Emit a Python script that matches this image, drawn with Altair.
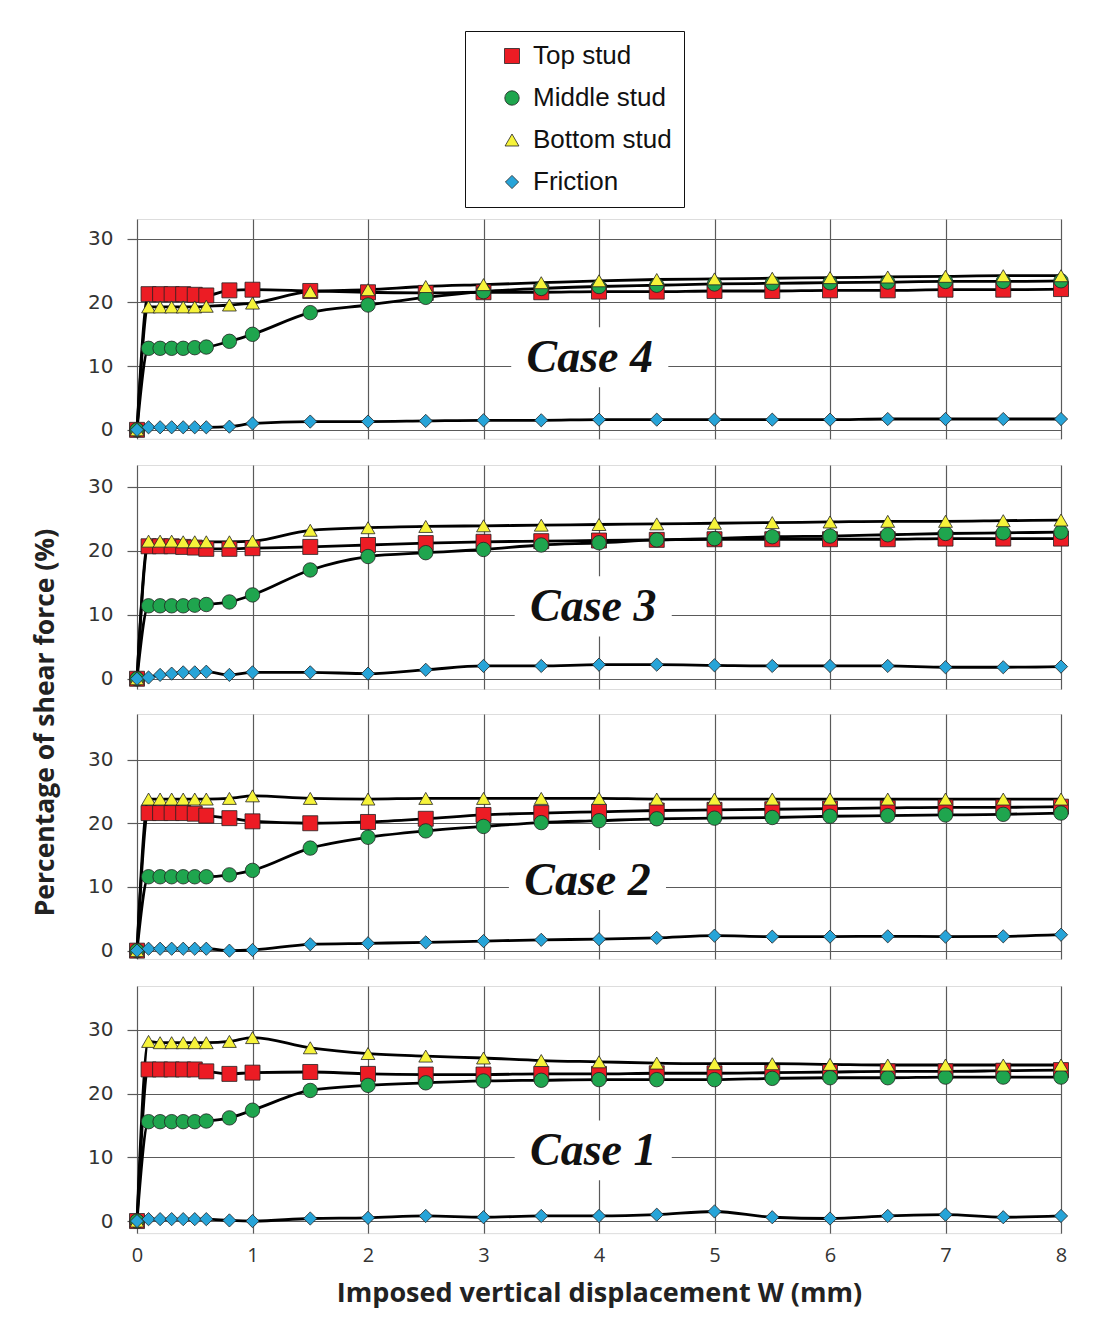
import altair as alt
import pandas as pd

# ---------------- data ----------------
disp = [0, 0.1, 0.2, 0.3, 0.4, 0.5, 0.6, 0.8, 1, 1.5, 2, 2.5, 3, 3.5, 4, 4.5, 5, 5.5, 6, 6.5, 7, 7.5, 8]
series_names = ["Top stud", "Middle stud", "Bottom stud", "Friction"]
series_colors = ["#ec1c24", "#1fa54e", "#f6f33a", "#27a4d8"]
series_shapes = ["square", "circle", "triangle-up", "diamond"]
series_sizes = [225, 175, 185, 115]

case_names = ["Case 4", "Case 3", "Case 2", "Case 1"]

top4 = [0, 21.3, 21.3, 21.3, 21.3, 21.2, 21.1, 21.9, 22.0, 21.8, 21.6, 21.5, 21.6, 21.6, 21.7, 21.7, 21.8, 21.8, 21.9, 21.9, 22.0, 22.0, 22.1]
mid4 = [0, 12.8, 12.8, 12.8, 12.8, 12.9, 13.0, 13.9, 15.0, 18.4, 19.6, 20.8, 21.7, 22.2, 22.5, 22.7, 22.9, 23.0, 23.1, 23.2, 23.3, 23.3, 23.4]
bot4 = [0, 19.3, 19.3, 19.3, 19.3, 19.3, 19.4, 19.6, 19.9, 21.7, 22.0, 22.5, 22.8, 23.1, 23.4, 23.6, 23.7, 23.8, 23.9, 24.0, 24.1, 24.2, 24.2]
fr4 = [0, 0.4, 0.4, 0.4, 0.4, 0.4, 0.4, 0.5, 1.0, 1.3, 1.3, 1.4, 1.5, 1.5, 1.6, 1.6, 1.6, 1.6, 1.6, 1.7, 1.7, 1.7, 1.7]

top3 = [0, 20.7, 20.7, 20.7, 20.6, 20.5, 20.3, 20.3, 20.4, 20.6, 20.9, 21.2, 21.4, 21.5, 21.6, 21.7, 21.8, 21.8, 21.8, 21.8, 21.9, 21.9, 21.9]
mid3 = [0, 11.4, 11.4, 11.4, 11.4, 11.5, 11.6, 12.0, 13.1, 17.0, 19.1, 19.7, 20.2, 20.9, 21.25, 21.7, 21.9, 22.2, 22.3, 22.5, 22.7, 22.8, 22.9]
bot3 = [0, 21.5, 21.5, 21.5, 21.4, 21.4, 21.4, 21.4, 21.5, 23.2, 23.6, 23.8, 23.9, 24.0, 24.1, 24.2, 24.3, 24.4, 24.5, 24.6, 24.6, 24.7, 24.8]
fr3 = [0, 0.2, 0.6, 0.8, 1.0, 1.0, 1.1, 0.6, 1.0, 1.0, 0.8, 1.4, 2.0, 2.0, 2.2, 2.2, 2.1, 2.0, 2.0, 2.0, 1.8, 1.8, 1.9]

top2 = [0, 21.6, 21.6, 21.6, 21.6, 21.5, 21.2, 20.8, 20.3, 20.0, 20.2, 20.7, 21.3, 21.6, 21.8, 22.0, 22.1, 22.2, 22.3, 22.4, 22.5, 22.5, 22.6]
mid2 = [0, 11.6, 11.6, 11.6, 11.6, 11.6, 11.6, 11.9, 12.6, 16.1, 17.8, 18.8, 19.5, 20.1, 20.4, 20.7, 20.8, 20.9, 21.1, 21.2, 21.3, 21.4, 21.6]
bot2 = [0, 23.8, 23.8, 23.8, 23.8, 23.8, 23.8, 23.9, 24.3, 23.9, 23.8, 23.9, 23.9, 23.9, 23.9, 23.8, 23.8, 23.8, 23.8, 23.8, 23.8, 23.8, 23.8]
fr2 = [0, 0.3, 0.3, 0.3, 0.3, 0.3, 0.3, 0.0, 0.1, 1.0, 1.15, 1.3, 1.5, 1.7, 1.8, 2.0, 2.35, 2.2, 2.2, 2.25, 2.2, 2.25, 2.5]

top1 = [0, 23.8, 23.8, 23.8, 23.8, 23.8, 23.5, 23.1, 23.3, 23.4, 23.1, 23.0, 23.0, 23.1, 23.1, 23.2, 23.2, 23.3, 23.4, 23.5, 23.5, 23.6, 23.7]
mid1 = [0, 15.6, 15.6, 15.6, 15.6, 15.6, 15.7, 16.2, 17.4, 20.5, 21.3, 21.7, 22.0, 22.1, 22.2, 22.2, 22.2, 22.4, 22.5, 22.5, 22.6, 22.6, 22.6]
bot1 = [0, 28.2, 28.0, 28.0, 28.0, 28.0, 28.0, 28.2, 28.8, 27.2, 26.3, 25.9, 25.6, 25.2, 25.0, 24.8, 24.7, 24.7, 24.6, 24.5, 24.5, 24.5, 24.5]
fr1 = [0, 0.3, 0.3, 0.3, 0.3, 0.3, 0.3, 0.1, 0.0, 0.4, 0.5, 0.8, 0.6, 0.8, 0.8, 1.0, 1.5, 0.6, 0.4, 0.8, 1.0, 0.6, 0.8]

case_series = [
    [top4, mid4, bot4, fr4],
    [top3, mid3, bot3, fr3],
    [top2, mid2, bot2, fr2],
    [top1, mid1, bot1, fr1],
]

# label positions (data units) for the "Case N" captions
case_label_x = [3.92, 3.95, 3.9, 3.95]
case_label_y = [11.3, 11.2, 11.0, 11.0]

# y-domains per panel (the panels were of slightly different extent)
y_min = [-1.4, -1.6, -1.3, -1.9]
y_max = [33.1, 33.4, 37.15, 36.9]
px_per_unit = [6.37, 6.4, 6.37, 6.37]

x_ticks = [0, 1, 2, 3, 4, 5, 6, 7, 8]
y_ticks = [0, 10, 20, 30]

GRID = "#5a5a5a"

legend = alt.Legend(
    orient="none", legendX=328, legendY=-188, title=None,
    labelFont="Liberation Sans", labelFontSize=26, labelColor="#111",
    symbolSize=110, symbolStrokeColor="#222", symbolStrokeWidth=0.8,
    strokeColor="#111", padding=12, rowPadding=16, symbolOffset=22,
    labelOffset=8, fillColor="white",
)


def panel(i, bottom):
    rows = []
    for s, name in enumerate(series_names):
        for x, v in zip(disp, case_series[i][s]):
            rows.append({"x": x, "y": v, "series": name, "sidx": s})
    df = pd.DataFrame(rows)

    h = (y_max[i] - y_min[i]) * px_per_unit[i]

    if bottom:
        xaxis = alt.Axis(values=x_ticks, grid=True, gridColor=GRID, gridWidth=1.2,
                         domain=False, ticks=False, labelPadding=12, labelFlush=False,
                         labelFont="Open Sans", labelFontSize=20, labelColor="#333",
                         title="Imposed vertical displacement W (mm)",
                         titleFont="Open Sans", titleFontSize=27, titleFontWeight="bold",
                         titleColor="#222", titlePadding=15)
    else:
        xaxis = alt.Axis(values=x_ticks, grid=True, gridColor=GRID, gridWidth=1.2,
                         domain=False, ticks=False, labels=False, title=None)
    yaxis = alt.Axis(values=y_ticks, grid=True, gridColor=GRID, gridWidth=1.2,
                     domain=False, ticks=True, tickSize=10, tickColor=GRID, tickWidth=1.2,
                     labelPadding=14, labelFont="DejaVu Sans", labelFontSize=20,
                     labelColor="#333", title=None)

    xs = alt.Scale(domain=[0, 8], nice=False, zero=False)
    ys = alt.Scale(domain=[y_min[i], y_max[i]], nice=False, zero=False)
    xenc = alt.X("x:Q", scale=xs, axis=xaxis)
    yenc = alt.Y("y:Q", scale=ys, axis=yaxis)

    lines = alt.Chart(df).mark_line(color="black", strokeWidth=2.8, interpolate="monotone", clip=False).encode(
        x=xenc, y=yenc, detail="series:N"
    )
    points = alt.Chart(df).mark_point(filled=True, opacity=1, stroke="#222", strokeWidth=0.8, clip=False).encode(
        x=xenc, y=yenc,
        color=alt.Color("series:N", scale=alt.Scale(domain=series_names, range=series_colors), legend=legend),
        shape=alt.Shape("series:N", scale=alt.Scale(domain=series_names, range=series_shapes), legend=legend),
        size=alt.Size("series:N", scale=alt.Scale(domain=series_names, range=series_sizes), legend=None),
        order=alt.Order("sidx:Q"),
    )

    lab = pd.DataFrame({
        "x": [case_label_x[i]], "y": [case_label_y[i]], "text": [case_names[i]],
        "x0": [case_label_x[i] - 0.68], "x1": [case_label_x[i] + 0.68],
        "y0": [case_label_y[i] - 4.6], "y1": [case_label_y[i] + 4.8],
    })
    box = alt.Chart(lab).mark_rect(color="white").encode(
        x=alt.X("x0:Q", scale=xs, axis=xaxis), x2="x1:Q",
        y=alt.Y("y0:Q", scale=ys, axis=yaxis), y2="y1:Q",
    )
    text = alt.Chart(lab).mark_text(
        font="Liberation Serif", fontSize=46, fontWeight="bold", fontStyle="italic",
        color="#111", align="center", baseline="middle",
    ).encode(
        x=alt.X("x:Q", scale=xs, axis=xaxis),
        y=alt.Y("y:Q", scale=ys, axis=yaxis),
        text="text:N",
    )
    return alt.layer(box, text, lines, points).properties(width=924, height=h)


panels = [panel(i, i == 3) for i in range(4)]

chart = alt.vconcat(*panels, spacing=23).properties(
    title=alt.TitleParams(
        "Percentage of shear force (%)", orient="left", anchor="middle",
        font="Open Sans", fontSize=26.5, fontWeight="bold", color="#222", offset=28, dx=-54,
    ),
    padding={"left": 24, "top": 22, "right": 5, "bottom": 5},
).configure_view(stroke=None).configure(background="white")

chart.save("out.html", embed_options={"renderer": "svg", "actions": False})
